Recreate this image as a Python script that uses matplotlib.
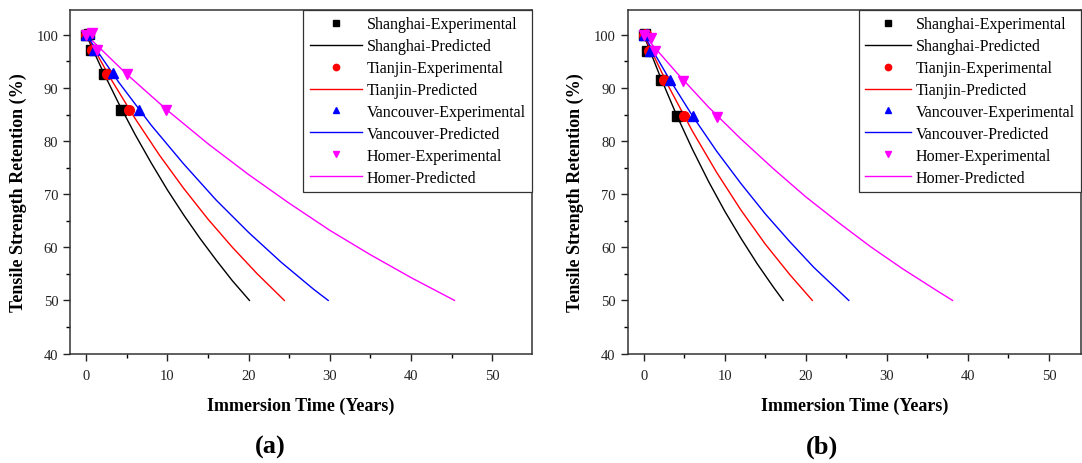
import matplotlib
matplotlib.use("Agg")
import matplotlib.pyplot as plt
from matplotlib.ticker import MultipleLocator

plt.rcParams["font.family"] = ["Liberation Serif", "DejaVu Serif"]

cities = ["Shanghai", "Tianjin", "Vancouver", "Homer"]
colors = ["#000000", "#ff0000", "#0000ff", "#ff00ff"]
markers = ["s", "o", "^", "v"]

# (a) experimental points
exp_t_a = [
    [0, 0.3, 0.62, 2.13, 4.3],
    [0, 0.37, 0.75, 2.59, 5.26],
    [0, 0.4, 0.92, 3.3, 6.45],
    [0, 0.7, 1.35, 5.0, 9.8],
]
exp_y_a = [
    [100, 100.2, 97.1, 92.7, 85.8],
    [100, 100.2, 97.1, 92.7, 85.8],
    [100, 100.4, 97.1, 92.8, 85.9],
    [100, 100.3, 97.1, 92.7, 85.9],
]

# (a) predicted curves
pred_t_a = [
    [0, 2, 4, 6, 8, 10, 12, 14, 16, 18, 20.1],
    [0, 3, 6, 9, 12, 15, 18, 21, 24.4],
    [0, 4, 8, 12, 16, 20, 24, 28, 29.8],
    [0, 5, 10, 15, 20, 25, 30, 35, 40, 45.35],
]
pred_y_a = [
    [100, 93.3, 87.1, 81.3, 75.9, 70.8, 66.1, 61.7, 57.6, 53.7, 50.0],
    [100, 91.8, 84.3, 77.4, 71.1, 65.3, 60.0, 55.1, 50.0],
    [100, 91.1, 83.0, 75.7, 68.9, 62.8, 57.2, 52.1, 50.0],
    [100, 92.6, 85.8, 79.5, 73.7, 68.3, 63.2, 58.6, 54.3, 50.0],
]

# (b) experimental points
exp_t_b = [
    [0, 0.2, 0.4, 2.1, 4.1],
    [0, 0.3, 0.6, 2.5, 4.95],
    [0, 0.35, 0.75, 3.2, 6.1],
    [0, 0.95, 1.35, 4.8, 9.1],
]
exp_y_b = [
    [100, 100.1, 96.9, 91.5, 84.7],
    [100, 100.1, 96.9, 91.5, 84.7],
    [100, 100.2, 97.0, 91.5, 84.8],
    [100, 99.5, 96.9, 91.4, 84.5],
]

# (b) predicted curves
pred_t_b = [
    [0, 2, 4, 6, 8, 10, 12, 14, 16, 17.2],
    [0, 3, 6, 9, 12, 15, 18, 20.8],
    [0, 3, 6, 9, 12, 15, 18, 21, 25.3],
    [0, 4, 8, 12, 16, 20, 24, 28, 32, 36, 38.1],
]
pred_y_b = [
    [100, 92.3, 85.1, 78.5, 72.4, 66.8, 61.7, 56.9, 52.5, 50.0],
    [100, 90.5, 81.9, 74.1, 67.0, 60.6, 54.9, 50.0],
    [100, 92.1, 84.8, 78.1, 72.0, 66.3, 61.1, 56.2, 50.0],
    [100, 93.0, 86.4, 80.4, 74.8, 69.5, 64.7, 60.1, 55.9, 52.0, 50.0],
]

fig = plt.figure(figsize=(10.82, 4.64), dpi=100)
ax_a = fig.add_axes([70 / 1082, 1 - 354.5 / 464, 462 / 1082, 343.5 / 464])
ax_b = fig.add_axes([627.5 / 1082, 1 - 354.5 / 464, 453.5 / 1082, 343.5 / 464])


def draw(ax, exp_t, exp_y, pred_t, pred_y, caption, cap_x, xmax, ylab_x, hl):
    for i, city in enumerate(cities):
        ax.plot(exp_t[i], exp_y[i], linestyle="none", marker=markers[i],
                color=colors[i], markersize=6.5 if markers[i] != "o" else 7,
                label=city + "-Experimental", zorder=3)
        ax.plot(pred_t[i], pred_y[i], color=colors[i], lw=1.0,
                label=city + "-Predicted", zorder=2)

    ax.set_xlim(-2, xmax)
    ax.set_ylim(40, 104.7)
    ax.xaxis.set_major_locator(MultipleLocator(10))
    ax.xaxis.set_minor_locator(MultipleLocator(5))
    ax.yaxis.set_major_locator(MultipleLocator(10))
    ax.yaxis.set_minor_locator(MultipleLocator(5))
    ax.tick_params(which="major", direction="out", length=5, width=1,
                   labelsize=10.5, colors="#222222")
    ax.tick_params(which="minor", direction="out", length=3, width=1)
    ax.tick_params(axis="x", pad=6)
    for s in ax.spines.values():
        s.set_linewidth(1.1)
        s.set_color("#333333")
    ax.set_xlabel("Immersion Time (Years)", fontsize=13, fontweight="bold",
                  labelpad=11)
    ax.set_ylabel("Tensile Strength Retention (%)", fontsize=13,
                  fontweight="bold")
    ax.yaxis.set_label_coords(ylab_x, 0.47)

    leg = ax.legend(loc="upper right", borderaxespad=0, fancybox=False,
                    edgecolor="#333333", framealpha=1, numpoints=1,
                    markerscale=0.65, handlelength=hl, handletextpad=0.25,
                    labelspacing=0.37, fontsize=11.5, borderpad=0.4)
    leg.get_frame().set_linewidth(0.9)

    fig.text(cap_x, 1 - 447 / 464, caption, ha="center", va="center",
             fontsize=19, fontweight="bold")


draw(ax_a, exp_t_a, exp_y_a, pred_t_a, pred_y_a, "(a)", 270 / 1082, 54.9,
     -0.093, 3.3)
draw(ax_b, exp_t_b, exp_y_b, pred_t_b, pred_y_b, "(b)", 822 / 1082, 53.95,
     -0.096, 2.9)

fig.savefig("out.png", dpi=100)
